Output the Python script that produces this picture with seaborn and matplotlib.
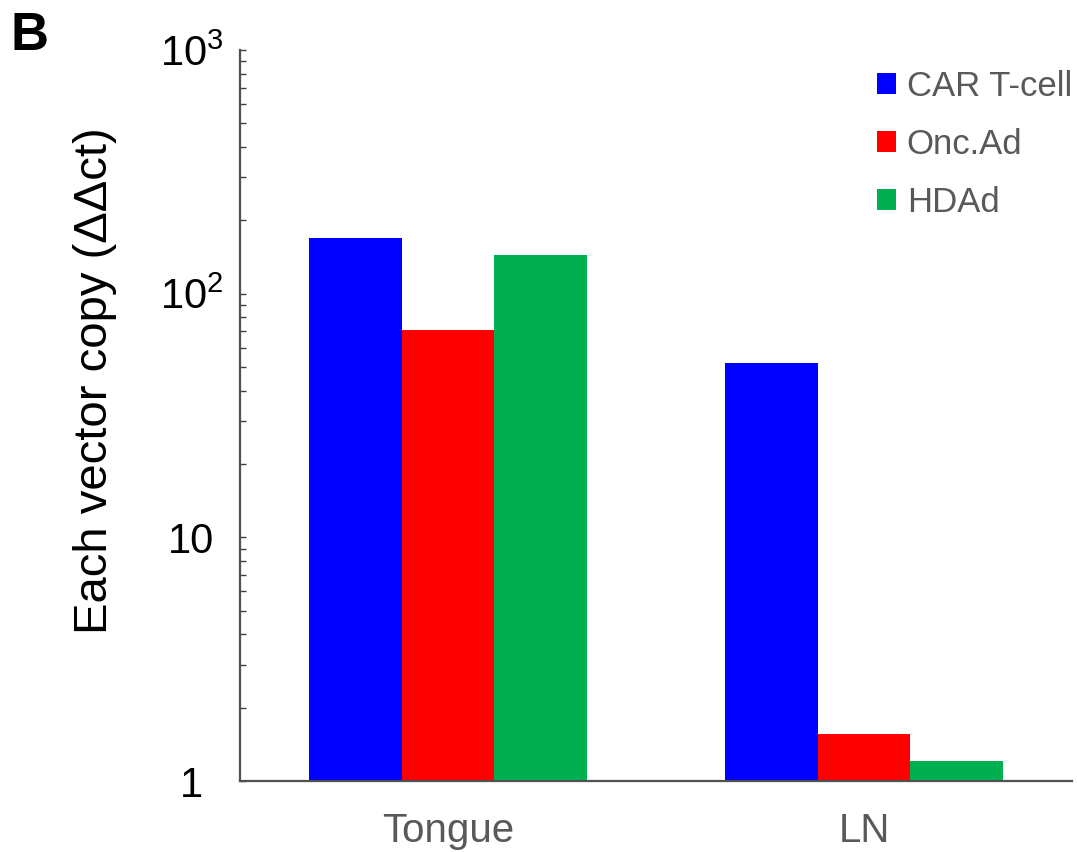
import matplotlib
matplotlib.use("Agg")
import matplotlib.pyplot as plt
import matplotlib.ticker as mticker
import seaborn as sns
import numpy as np
import pandas as pd

# values (log scale)
tissues = ["Tongue", "LN"]
vectors = ["CAR T-cell", "Onc.Ad", "HDAd"]
car_t = [170, 52]
onc_ad = [71, 1.56]
hd_ad = [144, 1.21]
colors = ["#0000FF", "#FF0000", "#00B050"]

df = pd.DataFrame({
    "tissue": tissues * 3,
    "vector": [v for v in vectors for _ in tissues],
    "copy": car_t + onc_ad + hd_ad,
})

sns.set_style("white")
plt.rcParams["font.family"] = ["Liberation Sans", "DejaVu Sans"]
plt.rcParams["mathtext.default"] = "regular"

fig = plt.figure(figsize=(10.77, 8.52), dpi=100)
ax = fig.add_axes([0.2228, 0.0833, 0.7726, 0.858])
ax.set_yscale("log")

sns.barplot(data=df, x="tissue", y="copy", hue="vector", order=tissues,
            hue_order=vectors, palette=colors, width=0.667, saturation=1,
            ax=ax, linewidth=0)

ax.set_ylim(1, 1000)
ax.set_xlim(-0.5, 1.5)

# y ticks
ax.yaxis.set_major_locator(mticker.FixedLocator([1, 10, 100, 1000]))
ax.yaxis.set_major_formatter(mticker.FixedFormatter(["1", "10", "$10^{2}$", "$10^{3}$"]))
ax.yaxis.set_minor_locator(mticker.LogLocator(base=10, subs=np.arange(2, 10)))
ax.yaxis.set_minor_formatter(mticker.NullFormatter())
ax.tick_params(axis="y", which="major", direction="in", length=4, width=1,
               color="#404040", pad=35, labelsize=30, labelcolor="black", left=True)
ax.tick_params(axis="y", which="minor", direction="in", length=4, width=1,
               color="#404040", left=True)
for lab in ax.get_yticklabels():
    lab.set_horizontalalignment("center")

ax.tick_params(axis="x", length=0, pad=22, labelsize=29, labelcolor="#595959")

ax.set_xlabel("")
ax.set_ylabel("Each vector copy (ΔΔct)", fontsize=34, color="black")
ax.yaxis.set_label_coords(-0.148, 0.547)

for s in ["top", "right"]:
    ax.spines[s].set_visible(False)
for s in ["left", "bottom"]:
    ax.spines[s].set_color("#505050")
    ax.spines[s].set_linewidth(1.6)

leg = ax.legend(loc="upper right", bbox_to_anchor=(1.0, 0.973), frameon=False,
                fontsize=25, handlelength=0.55, handleheight=0.55,
                handletextpad=0.3, labelspacing=0.72, borderaxespad=0, borderpad=0)
for t in leg.get_texts():
    t.set_color("#595959")

fig.text(0.01, 0.958, "B", fontsize=38, fontweight="bold", color="black",
         va="center", ha="left")

fig.savefig("out.png", dpi=100)
